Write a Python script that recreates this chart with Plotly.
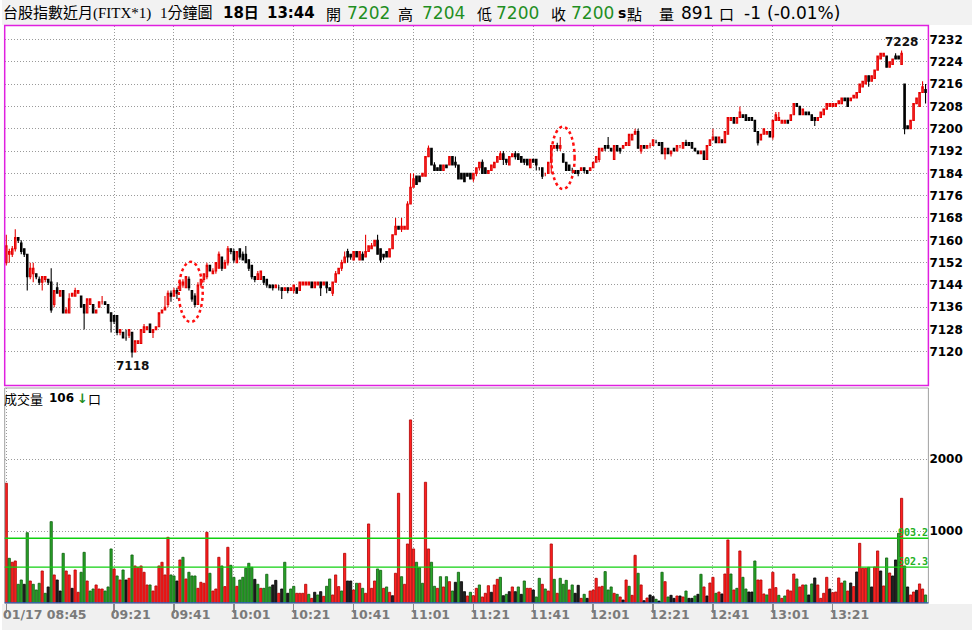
import plotly.graph_objects as go

# ---------------- data (1-minute bars) ----------------
open_ = [
    7152, 7155, 7155, 7157, 7161, 7159, 7157, 7155, 7147, 7148,
    7148, 7146, 7145, 7146, 7146, 7145, 7137, 7143, 7140, 7142,
    7134, 7134, 7140, 7140, 7141, 7140, 7137, 7134, 7137, 7137,
    7134, 7136, 7138, 7138, 7137, 7134, 7133, 7133, 7127, 7127,
    7125, 7126, 7127, 7120, 7123, 7123, 7127, 7128, 7130, 7127,
    7128, 7129, 7134, 7135, 7137, 7141, 7140, 7142, 7142, 7144,
    7143, 7146, 7142, 7140, 7137, 7144, 7146, 7147, 7151, 7148,
    7149, 7150, 7154, 7150, 7152, 7157, 7156, 7152, 7157, 7155,
    7155, 7153, 7151, 7147, 7146, 7146, 7147, 7146, 7144, 7144,
    7143, 7143, 7143, 7142, 7143, 7142, 7142, 7143, 7142, 7144,
    7144, 7144, 7145, 7143, 7144, 7145, 7144, 7145, 7143, 7141,
    7145, 7148, 7150, 7152, 7156, 7155, 7153, 7156, 7153, 7155,
    7154, 7156, 7157, 7158, 7160, 7157, 7155, 7156, 7154, 7157,
    7162, 7165, 7164, 7164, 7164, 7173, 7179, 7183, 7183, 7183,
    7183, 7190, 7193, 7187, 7186, 7187, 7185, 7187, 7187, 7190,
    7188, 7187, 7184, 7184, 7184, 7184, 7182, 7184, 7186, 7188,
    7186, 7184, 7185, 7186, 7188, 7189, 7191, 7189, 7187, 7190,
    7191, 7191, 7190, 7189, 7189, 7186, 7189, 7189, 7186, 7186,
    7184, 7184, 7188, 7193, 7194, 7193, 7191, 7188, 7187, 7185,
    7185, 7185, 7185, 7186, 7185, 7185, 7186, 7188, 7189, 7192,
    7194, 7194, 7193, 7189, 7194, 7193, 7193, 7194, 7194, 7196,
    7198, 7199, 7192, 7194, 7193, 7194, 7194, 7195, 7195, 7195,
    7191, 7193, 7191, 7193, 7192, 7194, 7193, 7195, 7195, 7195,
    7193, 7192, 7191, 7192, 7189, 7194, 7196, 7197, 7195, 7196,
    7195, 7198, 7203, 7204, 7202, 7204, 7205, 7205, 7204, 7204,
    7203, 7199, 7196, 7198, 7198, 7199, 7197, 7203, 7203, 7202,
    7202, 7203, 7203, 7205, 7209, 7208, 7205, 7206, 7206, 7205,
    7204, 7203, 7204, 7205, 7207, 7208, 7208, 7208, 7209, 7209,
    7211, 7211, 7210, 7211, 7211, 7213, 7215, 7216, 7219, 7217,
    7218, 7221, 7225, 7226, 7226, 7222, 7223, 7226, 7226, 7223,
    7216, 7201, 7200, 7203, 7209, 7208, 7213, 7214,
]
high = [
    7162, 7157, 7158, 7164, 7161, 7160, 7157, 7155, 7152, 7152,
    7148, 7147, 7147, 7147, 7146, 7150, 7142, 7145, 7142, 7142,
    7136, 7141, 7141, 7143, 7142, 7140, 7137, 7139, 7139, 7137,
    7135, 7138, 7140, 7138, 7137, 7134, 7133, 7133, 7128, 7127,
    7128, 7128, 7127, 7124, 7124, 7128, 7130, 7129, 7130, 7128,
    7129, 7134, 7135, 7140, 7142, 7142, 7143, 7143, 7146, 7146,
    7147, 7147, 7142, 7141, 7145, 7146, 7148, 7152, 7151, 7150,
    7152, 7156, 7154, 7153, 7158, 7157, 7157, 7156, 7157, 7156,
    7158, 7153, 7151, 7147, 7149, 7149, 7147, 7146, 7144, 7144,
    7144, 7144, 7143, 7143, 7143, 7143, 7144, 7143, 7145, 7145,
    7145, 7145, 7145, 7145, 7145, 7145, 7145, 7145, 7143, 7145,
    7149, 7150, 7153, 7156, 7157, 7155, 7156, 7156, 7156, 7156,
    7162, 7158, 7159, 7160, 7162, 7157, 7155, 7156, 7157, 7162,
    7168, 7165, 7168, 7165, 7174, 7184, 7184, 7183, 7183, 7184,
    7190, 7194, 7193, 7188, 7186, 7187, 7187, 7187, 7190, 7190,
    7190, 7187, 7184, 7184, 7184, 7184, 7184, 7186, 7188, 7189,
    7186, 7185, 7187, 7188, 7190, 7192, 7192, 7189, 7190, 7191,
    7192, 7191, 7190, 7189, 7189, 7189, 7189, 7189, 7186, 7186,
    7184, 7188, 7194, 7194, 7195, 7197, 7191, 7188, 7187, 7186,
    7185, 7185, 7186, 7186, 7185, 7186, 7188, 7190, 7193, 7193,
    7194, 7197, 7193, 7194, 7194, 7193, 7194, 7195, 7198, 7198,
    7200, 7200, 7194, 7194, 7194, 7195, 7196, 7196, 7195, 7195,
    7193, 7193, 7192, 7193, 7194, 7194, 7195, 7196, 7195, 7195,
    7193, 7192, 7192, 7192, 7194, 7196, 7200, 7197, 7197, 7196,
    7199, 7204, 7204, 7204, 7204, 7208, 7205, 7205, 7204, 7204,
    7203, 7199, 7198, 7200, 7199, 7199, 7203, 7206, 7206, 7203,
    7203, 7203, 7205, 7209, 7209, 7208, 7207, 7206, 7206, 7205,
    7204, 7204, 7206, 7207, 7209, 7209, 7209, 7209, 7210, 7211,
    7211, 7211, 7211, 7212, 7213, 7216, 7217, 7219, 7219, 7219,
    7221, 7226, 7227, 7227, 7226, 7224, 7225, 7227, 7226, 7228,
    7216, 7201, 7203, 7209, 7211, 7213, 7217, 7216,
]
low = [
    7151, 7152, 7154, 7156, 7159, 7155, 7154, 7142, 7146, 7145,
    7146, 7144, 7142, 7145, 7144, 7134, 7136, 7141, 7140, 7134,
    7134, 7134, 7140, 7140, 7141, 7136, 7128, 7134, 7137, 7134,
    7134, 7136, 7137, 7137, 7134, 7127, 7130, 7126, 7126, 7125,
    7124, 7125, 7118, 7120, 7123, 7123, 7127, 7128, 7127, 7125,
    7128, 7129, 7134, 7135, 7136, 7138, 7140, 7139, 7142, 7143,
    7143, 7142, 7138, 7136, 7137, 7143, 7145, 7146, 7149, 7148,
    7148, 7150, 7149, 7150, 7151, 7155, 7152, 7152, 7153, 7153,
    7152, 7149, 7146, 7145, 7146, 7146, 7144, 7143, 7143, 7142,
    7143, 7142, 7139, 7142, 7141, 7142, 7141, 7141, 7142, 7144,
    7144, 7144, 7143, 7143, 7144, 7140, 7144, 7141, 7142, 7140,
    7145, 7148, 7149, 7152, 7152, 7153, 7153, 7154, 7153, 7153,
    7154, 7156, 7157, 7158, 7155, 7152, 7153, 7154, 7154, 7157,
    7162, 7164, 7163, 7164, 7164, 7173, 7179, 7180, 7181, 7183,
    7183, 7190, 7187, 7185, 7185, 7185, 7185, 7186, 7187, 7187,
    7186, 7182, 7182, 7181, 7183, 7182, 7181, 7183, 7185, 7184,
    7184, 7184, 7185, 7186, 7188, 7189, 7187, 7187, 7187, 7190,
    7189, 7189, 7188, 7187, 7187, 7186, 7188, 7185, 7185, 7182,
    7183, 7184, 7184, 7193, 7192, 7192, 7188, 7185, 7185, 7184,
    7184, 7183, 7185, 7184, 7184, 7185, 7186, 7188, 7188, 7192,
    7192, 7193, 7192, 7189, 7192, 7191, 7193, 7194, 7194, 7196,
    7198, 7193, 7191, 7193, 7193, 7193, 7194, 7195, 7194, 7191,
    7189, 7191, 7190, 7192, 7192, 7193, 7193, 7194, 7194, 7193,
    7192, 7191, 7191, 7189, 7189, 7194, 7196, 7195, 7195, 7195,
    7195, 7198, 7203, 7202, 7202, 7204, 7204, 7203, 7203, 7203,
    7199, 7194, 7196, 7198, 7198, 7197, 7196, 7203, 7203, 7202,
    7202, 7202, 7203, 7205, 7208, 7205, 7205, 7205, 7205, 7203,
    7201, 7203, 7204, 7205, 7207, 7208, 7208, 7208, 7209, 7209,
    7210, 7208, 7210, 7211, 7211, 7213, 7215, 7216, 7215, 7217,
    7218, 7221, 7225, 7226, 7222, 7222, 7223, 7225, 7225, 7223,
    7198, 7200, 7200, 7203, 7209, 7208, 7213, 7209,
]
close = [
    7158, 7156, 7157, 7161, 7160, 7156, 7155, 7147, 7150, 7150,
    7147, 7145, 7147, 7147, 7145, 7135, 7142, 7141, 7142, 7134,
    7135, 7139, 7141, 7142, 7142, 7136, 7134, 7139, 7139, 7134,
    7135, 7138, 7138, 7137, 7134, 7131, 7131, 7127, 7128, 7125,
    7125, 7128, 7120, 7124, 7124, 7128, 7129, 7129, 7127, 7128,
    7129, 7134, 7135, 7136, 7141, 7140, 7142, 7141, 7145, 7145,
    7147, 7143, 7139, 7137, 7144, 7146, 7148, 7151, 7149, 7149,
    7152, 7155, 7150, 7152, 7157, 7156, 7153, 7156, 7154, 7153,
    7152, 7150, 7147, 7146, 7148, 7149, 7145, 7144, 7143, 7143,
    7144, 7143, 7142, 7143, 7142, 7143, 7144, 7141, 7145, 7145,
    7145, 7145, 7143, 7145, 7145, 7143, 7145, 7143, 7142, 7145,
    7148, 7150, 7152, 7154, 7154, 7154, 7156, 7154, 7156, 7153,
    7156, 7158, 7158, 7160, 7155, 7153, 7154, 7154, 7157, 7162,
    7165, 7164, 7165, 7165, 7173, 7179, 7182, 7180, 7181, 7184,
    7190, 7193, 7187, 7185, 7185, 7185, 7187, 7186, 7190, 7187,
    7187, 7182, 7182, 7181, 7183, 7182, 7184, 7186, 7188, 7184,
    7184, 7185, 7187, 7188, 7190, 7191, 7189, 7188, 7190, 7191,
    7190, 7189, 7188, 7188, 7187, 7189, 7188, 7187, 7186, 7183,
    7184, 7188, 7194, 7194, 7193, 7194, 7188, 7185, 7185, 7185,
    7184, 7184, 7186, 7185, 7184, 7186, 7188, 7190, 7193, 7193,
    7193, 7193, 7192, 7194, 7192, 7192, 7194, 7195, 7198, 7198,
    7199, 7193, 7194, 7193, 7194, 7194, 7196, 7195, 7194, 7191,
    7193, 7191, 7192, 7192, 7194, 7194, 7195, 7194, 7194, 7193,
    7192, 7191, 7192, 7189, 7194, 7196, 7197, 7195, 7197, 7195,
    7199, 7204, 7204, 7202, 7204, 7206, 7204, 7203, 7203, 7203,
    7199, 7195, 7198, 7200, 7199, 7197, 7203, 7205, 7204, 7203,
    7203, 7202, 7205, 7209, 7208, 7205, 7207, 7205, 7205, 7203,
    7203, 7204, 7206, 7207, 7209, 7209, 7209, 7209, 7210, 7211,
    7210, 7208, 7211, 7212, 7213, 7216, 7217, 7219, 7217, 7219,
    7221, 7226, 7227, 7227, 7222, 7224, 7225, 7225, 7225, 7227,
    7200, 7200, 7203, 7209, 7211, 7213, 7215, 7213,
]
volume = [
    1667, 625, 570, 588, 264, 324, 264, 981, 310, 264,
    185, 278, 449, 139, 227, 1134, 394, 324, 171, 694,
    449, 394, 208, 463, 153, 431, 708, 310, 171, 199,
    255, 199, 199, 171, 227, 755, 477, 380, 324, 463,
    324, 347, 671, 519, 500, 519, 431, 255, 255, 171,
    241, 519, 570, 394, 917, 394, 380, 310, 602, 639,
    338, 431, 380, 380, 208, 292, 278, 986, 417, 171,
    199, 639, 519, 232, 778, 528, 361, 236, 324, 361,
    486, 556, 500, 333, 264, 208, 208, 403, 227, 255,
    319, 139, 199, 570, 139, 199, 236, 139, 139, 139,
    264, 125, 69, 153, 116, 162, 97, 236, 338, 116,
    394, 232, 171, 694, 310, 310, 185, 278, 278, 208,
    139, 1102, 208, 310, 477, 458, 208, 227, 153, 106,
    417, 1528, 370, 264, 824, 2547, 755, 570, 495, 278,
    1681, 755, 570, 236, 208, 370, 227, 370, 301, 171,
    292, 431, 301, 162, 102, 153, 106, 208, 255, 88,
    139, 245, 153, 255, 333, 361, 106, 125, 162, 227,
    162, 227, 125, 310, 208, 208, 185, 88, 347, 264,
    199, 171, 824, 333, 139, 347, 264, 319, 185, 255,
    139, 250, 69, 125, 69, 171, 185, 347, 227, 236,
    440, 185, 227, 139, 125, 88, 46, 324, 236, 111,
    667, 417, 255, 37, 74, 116, 93, 56, 32, 431,
    301, 88, 111, 69, 102, 102, 88, 171, 69, 69,
    102, 125, 403, 227, 102, 282, 361, 139, 157, 130,
    407, 880, 407, 185, 208, 727, 361, 199, 157, 157,
    588, 324, 324, 130, 116, 199, 431, 218, 111, 69,
    102, 185, 171, 407, 338, 227, 255, 255, 116, 269,
    352, 255, 69, 139, 361, 199, 148, 157, 352, 282,
    310, 171, 282, 232, 435, 833, 486, 486, 500, 227,
    505, 727, 449, 241, 630, 421, 380, 602, 972, 1458,
    519, 227, 116, 157, 181, 269, 199, 116,
]
# r = red, g = green, k = black volume bars
vol_side = list(
    "rgrrggkgrg" "ggrgkgrkkg" "rrkrrggrgg" "rrrgggrgrg" "krgrrrrrgr"
    "rrrrrggkrg" "rgggrrrrgr" "rrgrrggrgg" "gggkgrgggk" "krkgkggrrr"
    "rgrkgkrggr" "rrgrkkrgrg" "rrrrggrgrk" "rrgrrrrggg" "rrggrgrgrg"
    "kgkkrgrrgr" "rrkrrgkgkr" "kgkgrrkggr" "grrgrgggrg" "kkrgkrrrrr"
    "gggrgrkrgr" "rgrkrkkgkg" "rgkkrkrgkk" "gkgrkrrgrk" "rrgrgrggkk"
    "grrrgrrrgr" "grrrgrrgkg" "krrrrkrrrr" "grkrkrrrgk" "rrkrgrkkgr"
    "gkrrkrrg"
)
price_ticks = [7120, 7128, 7136, 7144, 7152, 7160, 7168, 7176,
               7184, 7192, 7200, 7208, 7216, 7224, 7232]
vol_ticks = [1000, 2000]
time_ticks = ["01/17 08:45", "09:21", "09:41", "10:01", "10:21", "10:41", "11:01",
              "11:21", "11:41", "12:01", "12:21", "12:41", "13:01", "13:21"]
vol_levels = [903.2, 502.3]
vol_level_labels = ["903.2", "502.3"]

assert len(open_) == len(high) == len(low) == len(close) == len(volume) == len(vol_side)

bars = list(range(len(close)))


def minute_of(lbl):
    hh, mm = lbl[-5:].split(":")
    return int(hh) * 60 + int(mm)


tick_pos = [minute_of(t) - minute_of(time_ticks[0]) for t in time_ticks]

# ---------------- geometry ----------------
W, H = 972, 630
PX_L, PX_R = 2.7, 928.3
PRICE_TOP, PRICE_BOT = 25.5, 385.5
VOL_TOP, VOL_BOT = 388.0, 603.3
X_RANGE = [-0.53, 307.95]
PRICE_RANGE = [7107.96, 7236.99]
VOL_RANGE = [0, 2990]


def fx(p):
    return p / W


def fy(p):
    return 1 - p / H


CJK = "Noto Sans CJK TC"
NUM = "DejaVu Sans"
GREEN_TXT = "#1f8f1f"
GRID = "#9a9a9a"

fig = go.Figure()

fig.add_trace(go.Candlestick(
    x=bars, open=open_, high=high, low=low, close=close,
    xaxis="x", yaxis="y",
    increasing=dict(line=dict(color="#e60000", width=1.1), fillcolor="#ff4a4a"),
    decreasing=dict(line=dict(color="#000000", width=1.1), fillcolor="#000000"),
    whiskerwidth=0, showlegend=False, hoverinfo="skip",
))

fill_map = {"r": "#ff2020", "g": "#2aa52a", "k": "#202020"}
edge_map = {"r": "#b00000", "g": "#0d5e0d", "k": "#000000"}
fig.add_trace(go.Bar(
    x=bars, y=volume, xaxis="x2", yaxis="y2",
    width=0.74,
    marker=dict(color=[fill_map[s] for s in vol_side],
                line=dict(color=[edge_map[s] for s in vol_side], width=0.8)),
    showlegend=False, hoverinfo="skip",
))

shapes = [
    # header and bottom strip backgrounds
    dict(type="rect", xref="paper", yref="paper", x0=0, x1=1, y0=fy(25), y1=1,
         fillcolor="#f2f2f2", line=dict(width=0), layer="below"),
    dict(type="rect", xref="paper", yref="paper", x0=0, x1=1, y0=0, y1=fy(604),
         fillcolor="#f0f0f0", line=dict(width=0), layer="below"),
    # volume panel frame
    dict(type="rect", xref="x2 domain", yref="y2 domain", x0=0, x1=1, y0=0, y1=1,
         line=dict(color="#a0a0a0", width=1), layer="above"),
    # price panel frame (magenta)
    dict(type="rect", xref="x domain", yref="y domain", x0=0, x1=1, y0=0, y1=1,
         line=dict(color="#e020e0", width=1.5), layer="above"),
    # volume baseline
    dict(type="line", xref="x2 domain", yref="y2", x0=0, x1=1, y0=0, y1=0,
         line=dict(color="#2a5cc8", width=2), layer="above"),
    # hand-drawn dotted ellipses
    dict(type="circle", xref="x", yref="y", x0=57.6, x1=65.6, y0=7130.7, y1=7152.3,
         line=dict(color="#ff1010", width=2.5, dash="dot"), layer="above"),
    dict(type="circle", xref="x", yref="y", x0=182.0, x1=189.8, y0=7178.4, y1=7200.7,
         line=dict(color="#ff1010", width=2.5, dash="dot"), layer="above"),
]
for lvl in vol_levels:
    shapes.append(dict(type="line", xref="x2 domain", yref="y2", x0=0, x1=1, y0=lvl, y1=lvl,
                       line=dict(color="#10d010", width=1.3), layer="above"))

ann = []


def txt(x_px, y_px, text, family, size, color="#000000"):
    ann.append(dict(x=fx(x_px), y=fy(y_px), xref="paper", yref="paper", text=text,
                    showarrow=False, xanchor="left", yanchor="middle",
                    borderpad=0, borderwidth=0,
                    font=dict(family=family, size=size, color=color)))


TY = 13
txt(1, TY, "台股指數近月(FITX*1)", "Liberation Serif, " + CJK, 15)
txt(158, TY, "1分鐘圖", "Liberation Serif, " + CJK, 15)
txt(221.5, TY, "<b>18日</b>", NUM + ", " + CJK, 15)
txt(265.5, TY, "<b>13:44</b>", NUM, 15)
txt(324.5, TY, "開", CJK, 15)
txt(345.5, TY, "7202", NUM, 17, GREEN_TXT)
txt(396.5, TY, "高", CJK, 15)
txt(420.5, TY, "7204", NUM, 17, GREEN_TXT)
txt(475.5, TY, "低", CJK, 15)
txt(495.5, TY, "7200", NUM, 17, GREEN_TXT)
txt(550.5, TY, "收", CJK, 15)
txt(570.5, TY, "7200", NUM, 17, GREEN_TXT)
txt(617, TY, "<b>s</b>", NUM, 14)
txt(626.5, TY, "點", CJK, 15)
txt(658.5, TY, "量", CJK, 15)
txt(680.5, TY, "891", NUM, 17)
txt(718.5, TY, "口", CJK, 15)
txt(744, TY, "-1", NUM, 17)
txt(767, TY, "(-0.01%)", NUM, 17)

# volume panel caption
txt(2.5, 398, "成交量", CJK, 13)
txt(47, 398, "<b>106</b>", NUM, 12)
txt(75.5, 398, "<b>↓</b>", NUM, 13, "#1f8f1f")
txt(86, 398, "口", CJK, 13)

# volume level labels
for lvl, lab in zip(vol_levels, vol_level_labels):
    ann.append(dict(x=1, xref="x2 domain", y=lvl, yref="y2", text="<b>" + lab + "</b>",
                    showarrow=False, xanchor="right", yanchor="middle", yshift=6,
                    borderpad=0, borderwidth=0,
                    font=dict(family="DejaVu Sans Mono", size=10, color="#22b022")))

# extreme labels
lo_i = min(bars, key=lambda i: low[i])
hi_i = max(bars, key=lambda i: high[i])
ann.append(dict(x=lo_i, y=low[lo_i], xref="x", yref="y", text="<b>%d</b>" % low[lo_i],
                showarrow=False, xanchor="center", yanchor="top", yshift=-2,
                borderpad=0, borderwidth=0, font=dict(family=NUM, size=12, color="#111")))
ann.append(dict(x=hi_i, y=high[hi_i], xref="x", yref="y", text="<b>%d</b>" % high[hi_i],
                showarrow=False, xanchor="center", yanchor="bottom", yshift=2,
                borderpad=0, borderwidth=0, font=dict(family=NUM, size=12, color="#111")))

axis_font = dict(family=NUM, size=12, color="#000000", weight="bold")
fig.update_layout(
    width=W, height=H, autosize=False,
    margin=dict(l=0, r=0, t=0, b=0),
    paper_bgcolor="#ffffff", plot_bgcolor="#ffffff",
    showlegend=False, hovermode=False,
    xaxis=dict(domain=[fx(PX_L), fx(PX_R)], range=X_RANGE, anchor="y",
               tickvals=tick_pos[1:], showticklabels=False, ticks="",
               showgrid=True, gridcolor=GRID, griddash="1px,2px", gridwidth=1,
               zeroline=False, showline=False, rangeslider=dict(visible=False),
               fixedrange=True),
    yaxis=dict(domain=[fy(PRICE_BOT), fy(PRICE_TOP)], range=PRICE_RANGE, anchor="x",
               side="right", tickvals=price_ticks, ticktext=[str(v) for v in price_ticks],
               ticks="", tickfont=axis_font,
               showgrid=True, gridcolor=GRID, griddash="1px,2px", gridwidth=1,
               zeroline=False, showline=False, fixedrange=True),
    xaxis2=dict(domain=[fx(PX_L), fx(PX_R)], range=X_RANGE, anchor="y2",
                tickvals=tick_pos, ticktext=time_ticks,
                ticks="outside", ticklen=9, tickwidth=1.5, tickcolor="#8a8a8a",
                ticklabelposition="outside right", ticklabelshift=-4,
                tickfont=dict(family=NUM, size=12.5, color="#7a7a7a", weight="bold"),
                showgrid=True, gridcolor=GRID, griddash="1px,2px", gridwidth=1,
                zeroline=False, showline=False, fixedrange=True),
    yaxis2=dict(domain=[fy(VOL_BOT), fy(VOL_TOP)], range=VOL_RANGE, anchor="x2",
                side="right", tickvals=vol_ticks, ticktext=[str(v) for v in vol_ticks],
                ticks="", tickfont=axis_font,
                showgrid=True, gridcolor=GRID, griddash="1px,2px", gridwidth=1,
                zeroline=False, showline=False, fixedrange=True),
    shapes=shapes,
    annotations=ann,
)

# remove the browser's default page margin so the figure fills the window exactly
fig.write_html("out.html",
               config={"displayModeBar": False, "staticPlot": True},
               post_script="document.body.style.margin='0';document.body.style.overflow='hidden';")
